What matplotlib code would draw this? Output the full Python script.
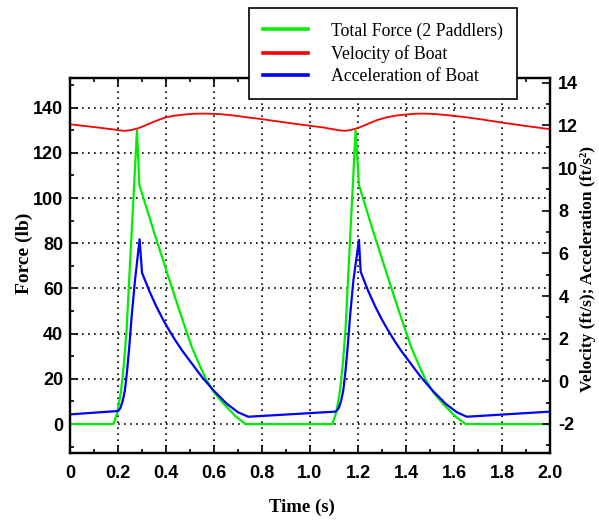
import matplotlib.pyplot as plt
from matplotlib.ticker import MultipleLocator

# total force of both paddlers (lb)
t_force = [0.0, 0.181, 0.197, 0.212, 0.225, 0.236, 0.279, 0.289, 0.35, 0.412,
           0.458, 0.507, 0.54, 0.567, 0.60, 0.639, 0.692, 0.732,
           1.093, 1.109, 1.124, 1.137, 1.148, 1.190, 1.204, 1.264, 1.326,
           1.372, 1.421, 1.454, 1.481, 1.514, 1.553, 1.607, 1.649, 2.0]
force = [0, 0, 5, 14, 27, 42, 130, 105.8, 85, 64.5,
         49.5, 34.2, 26, 19.8, 14, 9.1, 3.2, 0,
         0, 5, 14, 27, 42, 130, 105.8, 85, 64.5,
         49.5, 34.2, 26, 19.8, 14, 9.1, 3.2, 0, 0]

# boat velocity (ft/s)
t_vel = [0.0, 0.10, 0.18, 0.205, 0.229, 0.255, 0.285, 0.31, 0.335, 0.365,
         0.403, 0.44, 0.48, 0.52, 0.57, 0.62, 0.66, 0.69, 0.73, 0.806,
         0.90, 1.0, 1.05, 1.095, 1.12, 1.146, 1.17, 1.20, 1.225, 1.25,
         1.28, 1.32, 1.36, 1.40, 1.44, 1.472, 1.52, 1.56, 1.604, 1.65,
         1.72, 1.806, 1.90, 2.0]
velocity = [12.05, 11.92, 11.81, 11.765, 11.745, 11.78, 11.87, 11.98, 12.10, 12.24,
            12.39, 12.46, 12.51, 12.545, 12.55, 12.53, 12.49, 12.45, 12.39, 12.28,
            12.13, 11.98, 11.91, 11.82, 11.77, 11.745, 11.78, 11.88, 11.99, 12.11,
            12.25, 12.38, 12.46, 12.51, 12.545, 12.55, 12.53, 12.49, 12.44, 12.38,
            12.27, 12.12, 11.97, 11.82]

# boat acceleration (ft/s^2)
t_acc = [0.0, 0.201, 0.21, 0.22, 0.229, 0.238, 0.247, 0.258, 0.271, 0.290,
         0.300, 0.33, 0.358, 0.385, 0.41, 0.44, 0.47, 0.51, 0.55, 0.60,
         0.653, 0.70, 0.743,
         1.107, 1.12, 1.13, 1.139, 1.148, 1.157, 1.168, 1.181, 1.204,
         1.211, 1.242, 1.270, 1.297, 1.322, 1.352, 1.382, 1.422, 1.462, 1.512,
         1.565, 1.612, 1.653, 2.0]
accel = [-1.55, -1.39, -1.25, -0.9, -0.41, 0.5, 1.62, 3.19, 4.75, 6.66,
         5.09, 4.25, 3.55, 2.95, 2.45, 1.9, 1.4, 0.8, 0.2, -0.45,
         -1.05, -1.45, -1.66,
         -1.42, -1.25, -0.9, -0.41, 0.5, 1.62, 3.19, 4.75, 6.63,
         5.14, 4.25, 3.55, 2.95, 2.45, 1.9, 1.4, 0.8, 0.2, -0.45,
         -1.05, -1.45, -1.66, -1.42]

x_ticks = [0, 0.2, 0.4, 0.6, 0.8, 1.0, 1.2, 1.4, 1.6, 1.8, 2.0]
x_labels = ['0', '0.2', '0.4', '0.6', '0.8', '1.0', '1.2', '1.4', '1.6', '1.8', '2.0']
force_ticks = [0, 20, 40, 60, 80, 100, 120, 140]
right_ticks = [-2, 0, 2, 4, 6, 8, 10, 12, 14]

labels = ['Total Force (2 Paddlers)', 'Velocity of Boat', 'Acceleration of Boat']

tick_font = {'family': 'Liberation Sans', 'weight': 'bold', 'size': 13}
label_font = {'family': 'Liberation Serif', 'weight': 'bold', 'size': 14}

fig = plt.figure(figsize=(5.99, 5.25), dpi=100)
ax1 = fig.add_axes([70 / 599, 1 - 453 / 525, 480 / 599, 375 / 525])
ax2 = ax1.twinx()

l1, = ax1.plot(t_force, force, color='#00ee00', lw=1.6)
l2, = ax2.plot(t_vel, velocity, color='#ff0000', lw=1.3)
l3, = ax2.plot(t_acc, accel, color='#0000ff', lw=1.6)

ax1.set_xlim(0, 2.0)
ax1.set_ylim(-12.8, 153.1)
ax2.set_ylim(-3.36, 14.22)

ax1.set_xticks(x_ticks)
ax1.set_xticklabels(x_labels, fontdict=tick_font)
ax1.set_yticks(force_ticks)
ax1.set_yticklabels([str(v) for v in force_ticks], fontdict=tick_font)
ax2.set_yticks(right_ticks)
ax2.set_yticklabels([str(v) for v in right_ticks], fontdict=tick_font)
ax1.xaxis.set_minor_locator(MultipleLocator(0.1))
ax1.yaxis.set_minor_locator(MultipleLocator(10))
ax2.yaxis.set_minor_locator(MultipleLocator(1))

ax1.tick_params(which='both', direction='in', top=True, right=False, width=1.2)
ax1.tick_params(which='major', length=6)
ax1.tick_params(which='minor', length=3)
ax1.tick_params(axis='x', pad=9)
ax1.tick_params(axis='y', pad=5)
ax2.tick_params(which='both', direction='in', width=1.2, pad=6)
ax2.tick_params(which='major', length=6)
ax2.tick_params(which='minor', length=3)

for ax in (ax1, ax2):
    for s in ax.spines.values():
        s.set_linewidth(1.6)

ax1.grid(True, which='major', color='k', ls=(0, (1, 2.6)), lw=1.2)

ax1.set_xlabel('Time (s)', fontdict={**label_font, 'size': 13.5})
ax1.xaxis.set_label_coords(0.484, -0.122)
ax1.set_ylabel('Force (lb)', fontdict=label_font)
ax1.yaxis.set_label_coords(-0.078, 0.533)
ax2.set_ylabel('Velocity (ft/s); Acceleration (ft/s²)',
               fontdict={**label_font, 'size': 12.5})
ax2.yaxis.set_label_coords(1.063, 0.491)

leg = fig.legend([l1, l2, l3], labels, loc='upper left',
                 bbox_to_anchor=(249 / 599, 1 - 8 / 525),
                 prop={'family': 'Liberation Serif', 'size': 12.8},
                 fancybox=False, framealpha=1, edgecolor='k',
                 handlelength=2.5, handletextpad=1.3, labelspacing=0.3,
                 borderpad=0.8, borderaxespad=0)
leg.get_frame().set_linewidth(1.2)
for h in leg.legend_handles:
    h.set_linewidth(2.6)

fig.savefig('out.png', dpi=100)
